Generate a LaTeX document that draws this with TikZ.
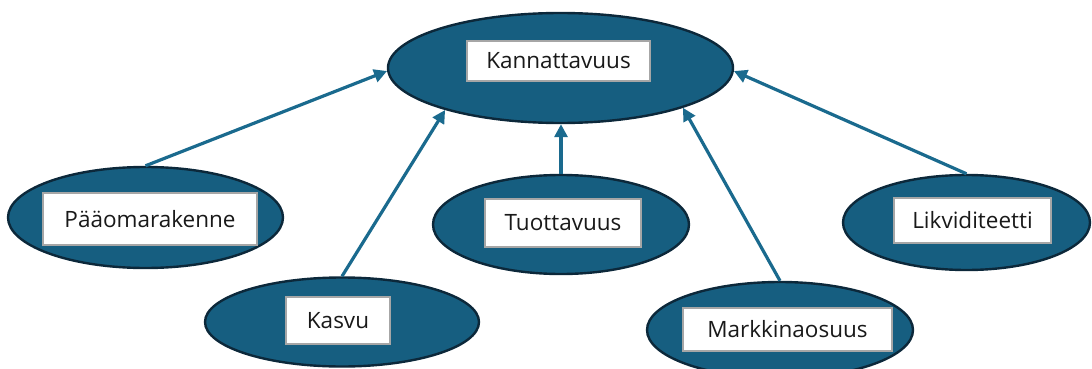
\documentclass[tikz,border=0pt]{standalone}
\usepackage{fontspec}
\setmainfont{Open Sans}
\usetikzlibrary{arrows.meta,shapes.geometric}
\definecolor{tealfill}{RGB}{22,94,128}
\definecolor{tealedge}{RGB}{12,40,58}
\definecolor{tealarrow}{RGB}{26,106,142}
\tikzset{
	blob/.style={ellipse, draw=tealedge, fill=tealfill, line width=2.4pt, inner sep=0pt},
	lbl/.style={rectangle, draw=black!35, fill=white, line width=1.6pt, inner sep=0pt, text=black!90, font=\fontsize{22.5}{26}\selectfont},
	link/.style={draw=tealarrow, line width=3.2pt, -{Triangle[length=13pt,width=13pt]}}
}

\begin{document}
\begin{tikzpicture}[x=1pt,y=-1pt]
			%%%%% START %%%%%
			\useasboundingbox (0,0) rectangle (1092,369);
			
			% top
			\node[blob, minimum width=345pt, minimum height=110pt] (kanna) at (560.5, 68) {};
			\node[lbl, minimum width=183pt, minimum height=40pt] (kannaL) at (558.5, 61) {Kannattavuus};
			
			% lower ring
			\node[blob, minimum width=275pt, minimum height=101pt] (paa) at (145.5, 217.5) {};
			\node[lbl, minimum width=214pt, minimum height=52pt] (paaL) at (150, 219) {Pääomarakenne};
			
			\node[blob, minimum width=274pt, minimum height=89pt] (kasvu) at (342, 322) {};
			\node[lbl, minimum width=104pt, minimum height=47pt] (kasvuL) at (338, 320.5) {Kasvu};
			
			\node[blob, minimum width=256pt, minimum height=99pt] (tuotto) at (561, 224.5) {};
			\node[lbl, minimum width=156pt, minimum height=48pt] (tuottoL) at (563, 223) {Tuottavuus};
			
			\node[blob, minimum width=266pt, minimum height=96pt] (markkina) at (780, 330) {};
			\node[lbl, minimum width=209pt, minimum height=43pt] (markkinaL) at (787.5, 329.5) {Markkinaosuus};
			
			\node[blob, minimum width=247pt, minimum height=95pt] (likvi) at (966.5, 222.5) {};
			\node[lbl, minimum width=157pt, minimum height=45pt] (likviL) at (972.5, 220.5) {Likviditeetti};
			
			% arrows
			\draw[link] (paa.north) -- (kanna.181);
			\draw[link] (kasvu.north) -- (kanna.200);
			\draw[link] (tuotto.north) -- (tuotto.north |- kanna.south);
			\draw[link] (markkina.north) -- (kanna.342);
			\draw[link] (likvi.north) -- (kanna.-1);
			
			%%%%% END %%%%%
		\end{tikzpicture}
\end{document}
